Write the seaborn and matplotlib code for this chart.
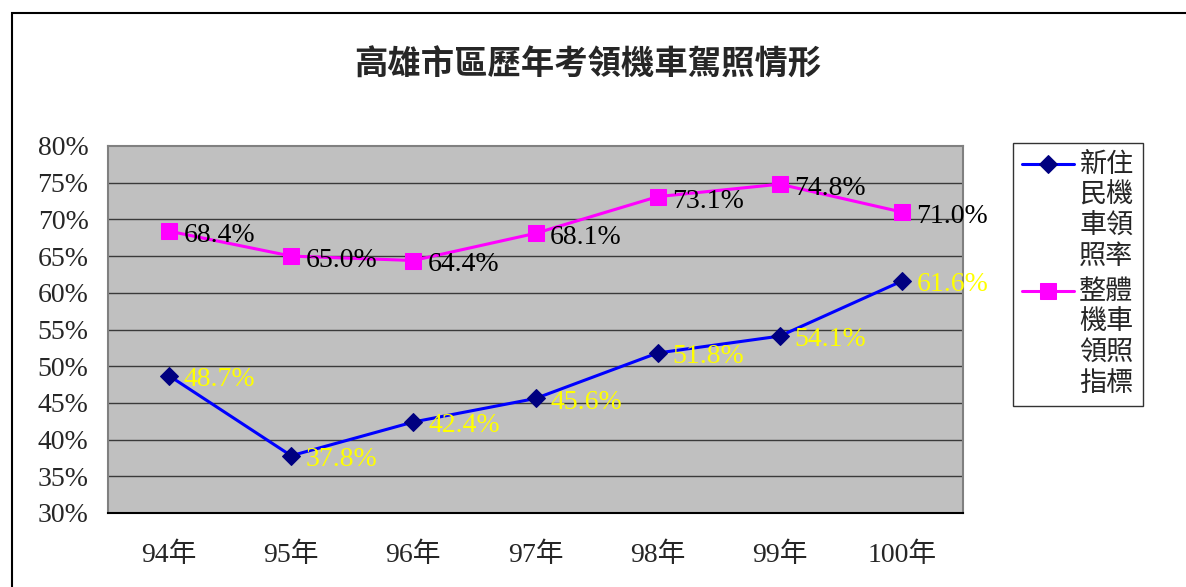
import matplotlib
matplotlib.use('Agg')
import matplotlib.pyplot as plt
import matplotlib.patches as mpatches
from matplotlib.legend_handler import HandlerLine2D
import numpy as np
import pandas as pd
import seaborn as sns

# data
years = ['94年', '95年', '96年', '97年', '98年', '99年', '100年']
new_resident_rate = [48.7, 37.8, 42.4, 45.6, 51.8, 54.1, 61.6]
overall_rate = [68.4, 65.0, 64.4, 68.1, 73.1, 74.8, 71.0]
series_names = ['新住\n民機\n車領\n照率', '整體\n機車\n領照\n指標']
title = '高雄市區歷年考領機車駕照情形'


class TopHandler(HandlerLine2D):
    """Legend handle placed next to the first line of a multi-line label."""
    def __init__(self, shift, **kw):
        super().__init__(**kw)
        self.shift = shift

    def create_artists(self, legend, orig_handle, xdescent, ydescent, width,
                       height, fontsize, trans):
        artists = super().create_artists(legend, orig_handle, xdescent, ydescent,
                                         width, height, fontsize, trans)
        for a in artists:
            a.set_ydata(np.asarray(a.get_ydata()) + self.shift)
        return artists


sns.set_theme(style='white')
serif = ['Liberation Serif', 'Noto Sans CJK TC']
plt.rcParams['font.family'] = serif

W, H = 1186, 587
fig = plt.figure(figsize=(W / 100, H / 100), dpi=100)
ax = fig.add_axes([108 / W, 1 - 513 / H, (963 - 108) / W, (513 - 146) / H])
ax.set_facecolor('#C0C0C0')

df = pd.DataFrame({
    'pos': list(range(len(years))) * 2,
    'value': new_resident_rate + overall_rate,
    'series': [series_names[0]] * len(years) + [series_names[1]] * len(years),
})

sns.lineplot(data=df[df.series == series_names[0]], x='pos', y='value', ax=ax,
             color='#0000FF', lw=2.2, marker='D', markersize=9,
             markerfacecolor='#000080', markeredgecolor='#000080',
             label=series_names[0], zorder=3)
sns.lineplot(data=df[df.series == series_names[1]], x='pos', y='value', ax=ax,
             color='#FF00FF', lw=2.2, marker='s', markersize=12,
             markerfacecolor='#FF00FF', markeredgecolor='#FF00FF',
             label=series_names[1], zorder=3)

# data labels
for i, v in enumerate(new_resident_rate):
    ax.text(i + 0.12, v - 0.5, f'{v:.1f}%', color='#FFFF00', fontsize=20,
            ha='left', va='center', family=serif, clip_on=False, zorder=4)
for i, v in enumerate(overall_rate):
    ax.text(i + 0.12, v - 0.6, f'{v:.1f}%', color='black', fontsize=20,
            ha='left', va='center', family=serif, clip_on=False, zorder=4)

ax.set_xlim(-0.5, len(years) - 0.5)
ax.set_ylim(30, 80)
yt = np.arange(30, 81, 5)
ax.set_yticks(yt)
ax.set_yticklabels([f'{t}%' for t in yt], fontsize=20)
for t in yt[1:-1]:
    ax.axhline(t, color='#3a3a3a', lw=1.0, zorder=1)

ax.set_xticks(range(len(years)))
ax.set_xticklabels(years, fontsize=20)
ax.set_xticks(np.arange(-0.5, len(years), 1), minor=True)
ax.tick_params(axis='x', which='major', length=0, pad=21)
ax.tick_params(axis='x', which='minor', direction='in', length=7, width=1, color='black')
ax.tick_params(axis='y', which='major', length=0, pad=14)
ax.set_xlabel('')
ax.set_ylabel('')

for side in ['left', 'top', 'right']:
    ax.spines[side].set_color('#808080')
    ax.spines[side].set_linewidth(1.5)
ax.spines['bottom'].set_color('black')
ax.spines['bottom'].set_linewidth(1.5)

fig.text(588 / W, 1 - 65 / H, title, fontsize=24, fontweight='bold',
         ha='center', va='center', family=['Noto Sans CJK TC', 'DejaVu Sans'])

handles, labels = ax.get_legend_handles_labels()
ax.get_legend().remove()
leg = ax.legend(handles, labels, loc='upper left',
                bbox_to_anchor=(1013 / W, 1 - 143 / H),
                bbox_transform=fig.transFigure, borderaxespad=0, frameon=True,
                fancybox=False, handlelength=1.9, labelspacing=0.35, borderpad=0.35,
                handletextpad=0.2, prop={'family': serif, 'size': 19.5},
                handler_map={h: TopHandler(34) for h in handles})
for t in leg.get_texts():
    t.set_linespacing(1.3)
leg.get_frame().set_edgecolor('black')
leg.get_frame().set_linewidth(1.0)

# outer chart frame
fig.patches.append(mpatches.Rectangle((12 / W, -0.05), 1.1, 1 - 13 / H + 0.05,
                                      transform=fig.transFigure, fill=False,
                                      edgecolor='black', lw=1.5))

fig.savefig('out.png', dpi=100)
